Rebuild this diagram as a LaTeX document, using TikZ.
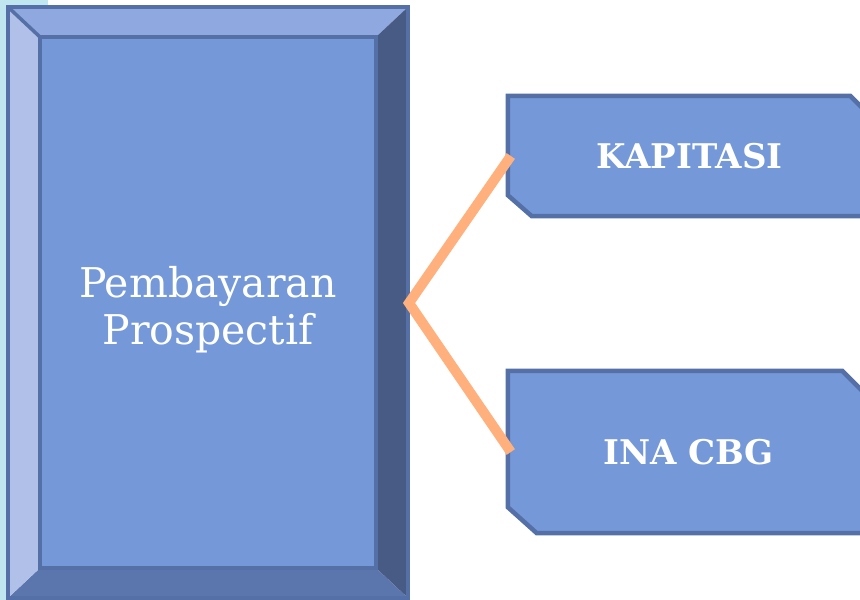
\documentclass[tikz,border=0pt]{standalone}
\usepackage{fontspec}
\setmainfont{DejaVu Serif}
\definecolor{bgcyan}{RGB}{192,230,239}
\definecolor{edge}{RGB}{84,112,166}
\definecolor{face}{RGB}{116,152,216}
\definecolor{topbev}{RGB}{143,169,224}
\definecolor{leftbev}{RGB}{176,192,232}
\definecolor{botbev}{RGB}{91,118,173}
\definecolor{rightbev}{RGB}{72,91,133}
\definecolor{peach}{RGB}{255,176,124}
\tikzset{
  bevel/.style={draw=edge, line width=3.5pt, line join=miter},
  sidebox/.style={draw=edge, fill=face, line width=4.5pt, line join=miter},
  boxlabel/.style={text=white, font=\bfseries\fontsize{34}{40}\selectfont, inner sep=0pt},
  mainlabel/.style={text=white, align=center, font=\fontsize{41}{47}\selectfont, inner sep=0pt},
  link/.style={draw=peach, line width=10pt, line join=miter, line cap=butt}
}
\begin{document}
\begin{tikzpicture}[x=1pt,y=-1pt]
\useasboundingbox (0,0) rectangle (860,600);
\clip (0,0) rectangle (860,600);
% background strip
\fill[bgcyan] (0,0) rectangle (48,7);
\fill[bgcyan] (0,0) rectangle (8,600);
% bevel box coordinates
\coordinate (o1) at (8,7);
\coordinate (o2) at (408,7);
\coordinate (o3) at (408,598);
\coordinate (o4) at (8,598);
\coordinate (i1) at (40,37);
\coordinate (i2) at (376,37);
\coordinate (i3) at (376,568);
\coordinate (i4) at (40,568);
\fill[topbev] (o1) -- (o2) -- (i2) -- (i1) -- cycle;
\fill[rightbev] (o2) -- (o3) -- (i3) -- (i2) -- cycle;
\fill[botbev] (o4) -- (o3) -- (i3) -- (i4) -- cycle;
\fill[leftbev] (o1) -- (i1) -- (i4) -- (o4) -- cycle;
\draw[bevel] (o1) -- (i1);
\draw[bevel] (o1) rectangle (o3);
\node[draw=edge, fill=face, line width=4pt, minimum width=336pt, minimum height=531pt, inner sep=0pt] (main) at (208,302.5) {};
\node[mainlabel] (maintext) at (208,310) {Pembayaran\\Prospectif};
% right boxes
\node[minimum width=363pt, minimum height=120pt, inner sep=0pt] (kap) at (689.5,156) {};
\draw[sidebox] (kap.north west) -- ([xshift=-21pt]kap.north east) -- ([yshift=-21pt]kap.north east) -- (kap.south east) -- ([xshift=24pt]kap.south west) -- ([yshift=21pt]kap.south west) -- cycle;
\node[boxlabel] (kaptext) at (kap.center) {KAPITASI};
\node[minimum width=361pt, minimum height=162pt, inner sep=0pt] (ina) at (688.5,452) {};
\draw[sidebox] (ina.north west) -- ([xshift=-27pt]ina.north east) -- ([yshift=-27pt]ina.north east) -- (ina.south east) -- ([xshift=29pt]ina.south west) -- ([yshift=26pt]ina.south west) -- cycle;
\node[boxlabel] (inatext) at (ina.center) {INA CBG};
% connectors
\coordinate (j) at (409,303);
\draw[link] ([xshift=3pt]kap.west) -- (j) -- ([xshift=3pt]ina.west);
\end{tikzpicture}
\end{document}
